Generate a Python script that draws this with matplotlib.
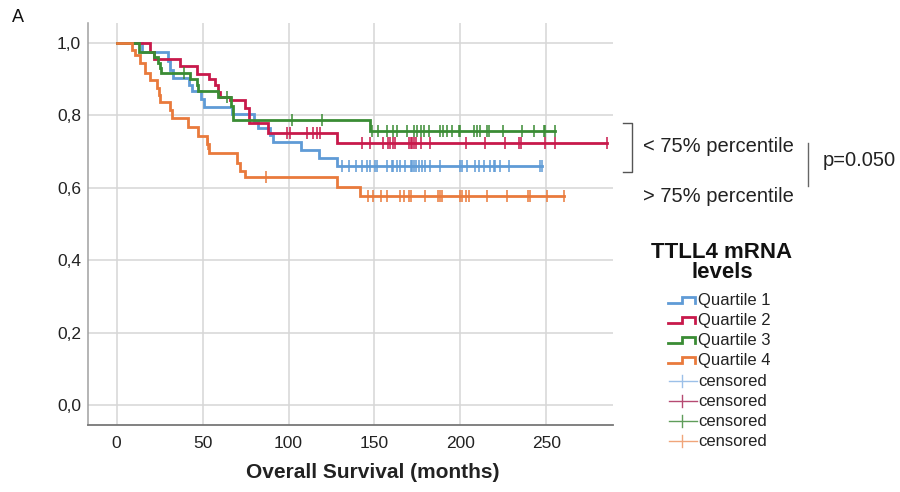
import numpy as np
import matplotlib
matplotlib.use("Agg")
import matplotlib.pyplot as plt

plt.rcParams['font.family'] = ['Liberation Sans', 'DejaVu Sans']

# ---------------- data ----------------
q1_times = [0, 15, 30, 31, 33, 42, 44, 49, 51, 67, 80, 82, 89, 91, 107, 117.5, 128]
q1_surv = [1.0, 0.975, 0.95, 0.925, 0.902, 0.884, 0.866, 0.845, 0.824, 0.803, 0.783, 0.764, 0.745, 0.727, 0.704, 0.681, 0.660]
q1_cens = [131, 135, 139, 142.7, 145.6, 147.5, 150.5, 151.5, 157.3, 160, 161, 163, 165, 168, 171, 172, 173,
           174, 175.7, 177.6, 179.6, 182.5, 188.3, 200, 201, 203.8, 208.7, 210.6, 213.5, 217.4, 219.3, 220.3,
           223.2, 228, 246.5, 247.5]

q2_times = [0, 19.5, 22, 37, 46.5, 54, 57, 59, 60, 66, 74.8, 77, 88, 128]
q2_surv = [1.0, 0.975, 0.955, 0.935, 0.915, 0.90, 0.885, 0.865, 0.85, 0.842, 0.82, 0.78, 0.75, 0.725]
q2_cens = [99, 101, 110.7, 114.5, 116.5, 118.5, 142.7, 147.5, 155, 158, 159, 161, 162, 170, 171, 172, 173,
           174, 177, 182.5, 203, 214.5, 226, 234, 235, 249.4, 255, 285.3]

q3_times = [0, 13, 22, 24, 25, 26, 42.5, 46.5, 47.5, 59, 66.5, 68, 147.5]
q3_surv = [1.0, 0.975, 0.96, 0.945, 0.93, 0.918, 0.90, 0.884, 0.866, 0.852, 0.825, 0.787, 0.758]
q3_cens = [39, 64, 102, 119.4, 148.5, 152, 157, 161, 163, 169, 173, 175, 177, 178.6, 181.6, 188, 190, 192,
           195, 199, 200, 207.7, 209.6, 211.5, 215.5, 216.4, 225, 236, 242.5, 248.4, 249.4, 255]

q4_times = [0, 8.8, 10.8, 13.7, 16.6, 19.5, 23.4, 24.5, 25.3, 31.1, 32, 41.7, 47.6, 52.5, 53.5, 70, 72,
            74.8, 128, 141.7]
q4_surv = [1.0, 0.98, 0.967, 0.944, 0.917, 0.898, 0.875, 0.857, 0.838, 0.815, 0.792, 0.769, 0.743, 0.72,
           0.695, 0.668, 0.645, 0.629, 0.603, 0.578]
q4_cens = [53, 87, 146, 149, 154, 157, 165, 167, 170, 171, 179.6, 187, 188, 189.5, 200, 201, 203, 205,
           215.6, 227, 239.5, 240.7, 250.6, 260]

group_labels = ["Quartile 1", "Quartile 2", "Quartile 3", "Quartile 4"]
censor_label = "censored"
x_ticks = [0, 50, 100, 150, 200, 250]
y_ticks = [0.0, 0.2, 0.4, 0.6, 0.8, 1.0]
y_tick_labels = ["0,0", "0,2", "0,4", "0,6", "0,8", "1,0"]

colors = ["#5f9bd6", "#c8194b", "#3a8c34", "#e97a3c"]
cens_colors = ["#9cc0e8", "#b64a72", "#5f9d5a", "#f0a57a"]

groups = [(q1_times, q1_surv, q1_cens), (q2_times, q2_surv, q2_cens),
          (q3_times, q3_surv, q3_cens), (q4_times, q4_surv, q4_cens)]

# ---------------- figure ----------------
fig = plt.figure(figsize=(9.0, 4.92), dpi=100)
ax = fig.add_axes([88 / 900, 1 - 425 / 492, (613 - 88) / 900, (425 - 23) / 492])

for (t, s, c), col in zip(groups, colors):
    t = np.asarray(t, float)
    s = np.asarray(s, float)
    end = max(c)
    ax.step(np.append(t, end), np.append(s, s[-1]), where='post', color=col, lw=2.0, zorder=3,
            solid_joinstyle='miter')
    cy = s[np.searchsorted(t, c, side='right') - 1]
    ax.plot(c, cy, linestyle='none', marker='|', markersize=9, markeredgewidth=1.1, color=col, zorder=4)

ax.set_xlim(-16.6, 288.7)
ax.set_ylim(-0.055, 1.055)
ax.set_xticks(x_ticks)
ax.set_yticks(y_ticks)
ax.set_yticklabels(y_tick_labels)
ax.tick_params(axis='both', length=0, labelsize=12.5, colors='#222222')
ax.tick_params(axis='x', pad=8)
ax.tick_params(axis='y', pad=5)
ax.grid(True, color='#d6d6d6', lw=1.1, zorder=0)
ax.set_axisbelow(True)
for side in ['top', 'right']:
    ax.spines[side].set_visible(False)
ax.spines['left'].set_color('#a0a0a0')
ax.spines['bottom'].set_color('#777777')
ax.spines['left'].set_linewidth(1.1)
ax.spines['bottom'].set_linewidth(1.3)

fig.text(373 / 900, 1 - 473 / 492, "Overall Survival (months)", ha='center', va='center',
         fontsize=15, fontweight='bold', color='#222222')
fig.text(12 / 900, 1 - 18 / 492, "A", ha='left', va='center', fontsize=13, color='#111111')

# ---------------- overlay in pixel coordinates ----------------
ov = fig.add_axes([0, 0, 1, 1], facecolor='none')
ov.set_xlim(0, 900)
ov.set_ylim(492, 0)
ov.axis('off')

# bracket and p-value
ov.plot([623, 632, 632, 623], [123, 123, 172, 172], color='#555555', lw=1.0)
ov.plot([808, 808], [143, 186], color='#666666', lw=1.0)
ov.text(643, 146, "< 75% percentile", ha='left', va='center', fontsize=14.5, color='#222222')
ov.text(643, 197, "> 75% percentile", ha='left', va='center', fontsize=14.5, color='#222222')
ov.text(823, 160, "p=0.050", ha='left', va='center', fontsize=14.5, color='#222222')

# legend
ov.text(722, 252, "TTLL4 mRNA", ha='center', va='center', fontsize=16, fontweight='bold', color='#111111')
ov.text(722, 273, "levels", ha='center', va='center', fontsize=16, fontweight='bold', color='#111111')

rows_q = [300, 320, 340, 360]
for lab, col, yy in zip(group_labels, colors, rows_q):
    ov.plot([668, 682, 682, 695, 695], [yy + 3, yy + 3, yy - 3, yy - 3, yy + 3], color=col, lw=2.0,
            solid_joinstyle='miter')
    ov.text(698, yy, lab, ha='left', va='center', fontsize=12, color='#222222')

rows_c = [381, 401, 421, 441]
for col, yy in zip(cens_colors, rows_c):
    ov.plot([669, 697], [yy, yy], color=col, lw=1.0)
    ov.plot([682, 682], [yy - 6, yy + 6], color=col, lw=1.0)
    ov.text(698, yy, censor_label, ha='left', va='center', fontsize=12, color='#222222')

fig.savefig("out.png", dpi=100)
